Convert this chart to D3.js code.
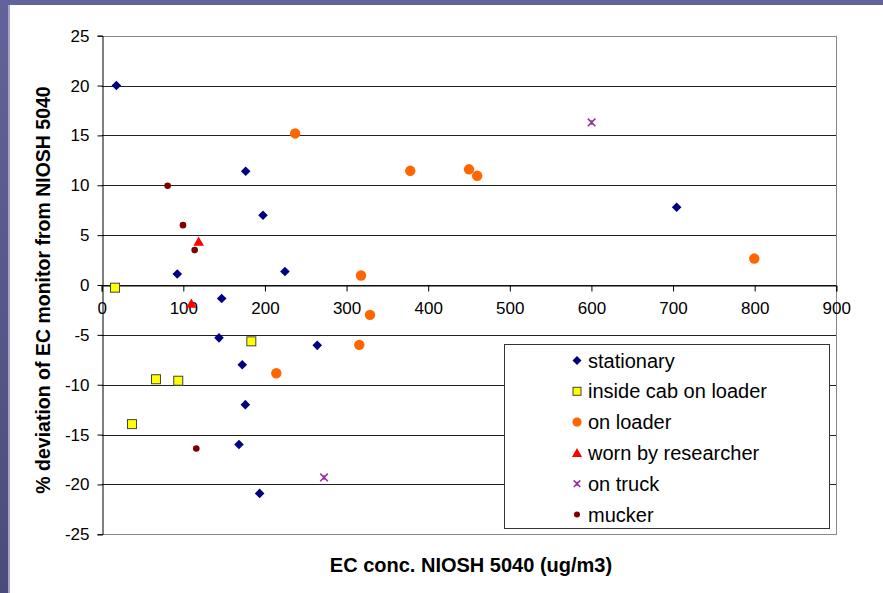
<!DOCTYPE html>
<html>
<head>
<meta charset="utf-8">
<script src="https://cdn.jsdelivr.net/npm/d3@7/dist/d3.min.js"></script>
<style>
  html, body { margin: 0; padding: 0; background: #fff; }
  svg { display: block; font-family: "Liberation Sans", Arial, sans-serif; }
</style>
</head>
<body>
<svg id="chart" width="883" height="593"></svg>
<script>
// ---- data ----
const xTicks = [0, 100, 200, 300, 400, 500, 600, 700, 800, 900];
const yTicks = [-25, -20, -15, -10, -5, 0, 5, 10, 15, 20, 25];

const stationaryX = [18, 92.6, 176.4, 197.6, 224.5, 147, 143.7, 172.2, 176, 168.2, 193.5, 264.1, 704.4];
const stationaryY = [20, 1.1, 11.4, 7.0, 1.35, -1.35, -5.3, -8.0, -12.0, -16.0, -20.9, -6.05, 7.8];
const cabX = [16.3, 183.3, 66.5, 93.8, 37.1];
const cabY = [-0.27, -5.65, -9.45, -9.6, -13.95];
const loaderX = [237, 378, 450, 460, 317.7, 328.7, 315.6, 213.9, 799.5];
const loaderY = [15.2, 11.45, 11.6, 10.95, 0.95, -3.0, -6.0, -8.85, 2.65];
const researcherX = [118.8, 109.8];
const researcherY = [4.35, -1.85];
const truckX = [600.2, 272.4];
const truckY = [16.3, -19.3];
const muckerX = [80.8, 99.6, 113.9, 115.9];
const muckerY = [9.95, 6.0, 3.5, -16.4];

const seriesNames = ["stationary", "inside cab on loader", "on loader", "worn by researcher", "on truck", "mucker"];
const xTitle = "EC conc. NIOSH 5040 (ug/m3)";
const yTitle = "% deviation of EC monitor from NIOSH 5040";

// ---- build ----
const svg = d3.select("#chart");
const W = 883, H = 593;

// background frame
const defs = svg.append("defs");
const grad = defs.append("linearGradient").attr("id", "bg").attr("x1", 0).attr("y1", 0).attr("x2", 0).attr("y2", 1);
grad.append("stop").attr("offset", "0%").attr("stop-color", "#63639b");
grad.append("stop").attr("offset", "100%").attr("stop-color", "#4b4b7b");
svg.append("rect").attr("x", 0).attr("y", 0).attr("width", W).attr("height", H).attr("fill", "url(#bg)");
svg.append("rect").attr("x", 8).attr("y", 5).attr("width", 2).attr("height", H - 5).attr("fill", "#a4a4cf");
svg.append("rect").attr("x", 10).attr("y", 5).attr("width", W - 10).attr("height", H - 5).attr("fill", "#ffffff");

const x = d3.scaleLinear().domain([0, 900]).range([101.7, 836.3]);
const y = d3.scaleLinear().domain([-25, 25]).range([534.3, 35.7]);

// gridlines
const grid = svg.append("g");
grid.selectAll("line").data(yTicks).join("line")
  .attr("x1", x(0)).attr("x2", x(900))
  .attr("y1", d => Math.round(y(d)) + 0.5).attr("y2", d => Math.round(y(d)) + 0.5)
  .attr("stroke", d => (d === 25 || d === -25) ? "#888" : "#222")
  .attr("stroke-width", 1);
// right border
svg.append("line")
  .attr("x1", Math.round(x(900)) + 0.5).attr("x2", Math.round(x(900)) + 0.5)
  .attr("y1", y(25)).attr("y2", y(-25) + 0.5)
  .attr("stroke", "#888");

const fmt = d => String(d);

// y axis
const yAxis = d3.axisLeft(y).tickValues(yTicks).tickSize(5).tickPadding(8).tickFormat(fmt);
const gy = svg.append("g").attr("transform", `translate(${Math.round(x(0)) + 0.5},0)`).call(yAxis);
gy.select(".domain").attr("stroke", "#000");
gy.selectAll(".tick line").attr("stroke", "#000");
gy.selectAll(".tick text").attr("font-size", "17px").attr("fill", "#000")
  .attr("font-family", "'Liberation Sans', Arial, sans-serif");

// x axis at y=0
const xAxis = d3.axisBottom(x).tickValues(xTicks).tickSize(6).tickPadding(10).tickFormat(fmt);
const gx = svg.append("g").attr("transform", `translate(0,${Math.round(y(0)) + 0.5})`).call(xAxis);
gx.select(".domain").attr("stroke", "#000");
gx.selectAll(".tick line").attr("stroke", "#000");
gx.selectAll(".tick text").attr("font-size", "17px").attr("fill", "#000")
  .attr("font-family", "'Liberation Sans', Arial, sans-serif");

// marker drawers
function diamond(g, s) {
  return g.append("path").attr("d", `M0,${-s}L${s},0L0,${s}L${-s},0Z`).attr("fill", "#000080");
}
function square(g, s) {
  return g.append("rect").attr("x", -s).attr("y", -s).attr("width", 2 * s).attr("height", 2 * s)
    .attr("fill", "#ffff00").attr("stroke", "#444").attr("stroke-width", 1);
}
function circle(g, r, color) {
  return g.append("circle").attr("r", r).attr("fill", color);
}
function triangle(g, s) {
  return g.append("path").attr("d", `M0,${-s}L${s * 1.05},${s * 0.85}L${-s * 1.05},${s * 0.85}Z`).attr("fill", "#ff0000");
}
function star(g, s) {
  g.append("path").attr("d", `M${-s},${-s}L${s},${s}M${-s},${s}L${s},${-s}M0,${-s * 0.6}L0,${s * 0.6}`)
    .attr("stroke", "#993399").attr("stroke-width", 1.6).attr("fill", "none");
  return g;
}

const series = [
  { name: seriesNames[0], xs: stationaryX, ys: stationaryY, draw: g => diamond(g, 4.8), legend: g => diamond(g, 4.5) },
  { name: seriesNames[1], xs: cabX, ys: cabY, draw: g => square(g, 4.5), legend: g => square(g, 4) },
  { name: seriesNames[2], xs: loaderX, ys: loaderY, draw: g => circle(g, 5.2, "#ff6600"), legend: g => circle(g, 4.6, "#ff6600") },
  { name: seriesNames[3], xs: researcherX, ys: researcherY, draw: g => triangle(g, 5), legend: g => triangle(g, 4.8) },
  { name: seriesNames[4], xs: truckX, ys: truckY, draw: g => star(g, 3.8), legend: g => star(g, 3.3) },
  { name: seriesNames[5], xs: muckerX, ys: muckerY, draw: g => circle(g, 3.3, "#800000"), legend: g => circle(g, 3, "#800000") }
];

const marks = svg.append("g");
series.forEach(s => {
  s.xs.forEach((xv, i) => {
    const g = marks.append("g").attr("transform", `translate(${x(xv)},${y(s.ys[i])})`);
    s.draw(g);
  });
});

// legend
const lg = svg.append("g");
lg.append("rect").attr("x", 504.5).attr("y", 344.5).attr("width", 325).attr("height", 184)
  .attr("fill", "#fff").attr("stroke", "#333").attr("stroke-width", 1);
series.forEach((s, i) => {
  const cy = 360.5 + i * 30.8;
  const g = lg.append("g").attr("transform", `translate(577,${cy})`);
  s.legend(g);
  lg.append("text").attr("x", 588).attr("y", cy).attr("dy", "0.35em")
    .attr("font-size", "20px").attr("fill", "#000").text(s.name);
});

// axis titles
svg.append("text").attr("x", 471).attr("y", 572).attr("text-anchor", "middle")
  .attr("font-size", "20px").attr("font-weight", "bold").attr("fill", "#000").text(xTitle);
svg.append("text").attr("transform", "translate(50,290) rotate(-90)").attr("text-anchor", "middle")
  .attr("font-size", "19.5px").attr("font-weight", "bold").attr("fill", "#000").text(yTitle);
</script>
</body>
</html>
